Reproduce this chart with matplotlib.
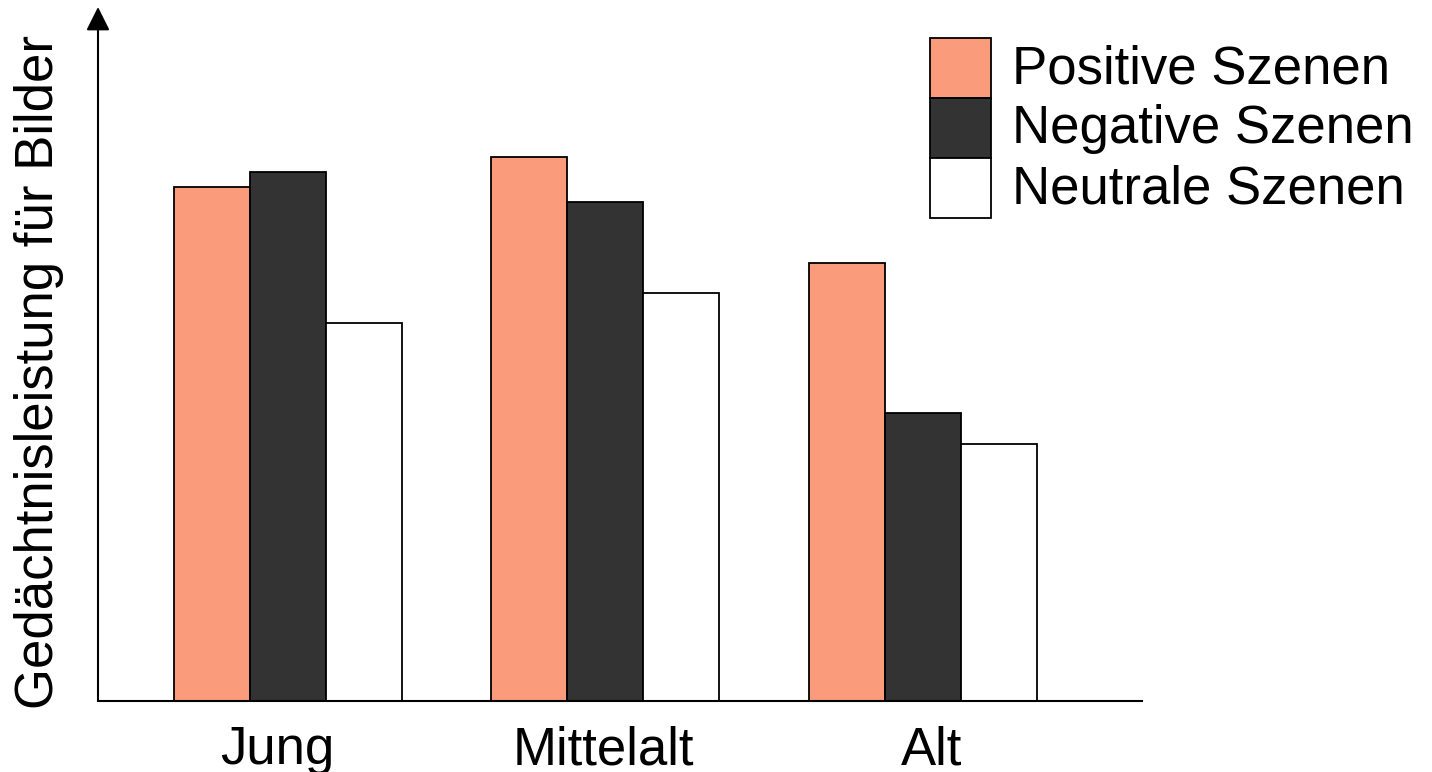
import numpy as np
import matplotlib.pyplot as plt
from matplotlib.patches import Rectangle

plt.rcParams['font.family'] = ['Liberation Sans', 'DejaVu Sans']

groups = ['Jung', 'Mittelalt', 'Alt']
label_pos = [-0.033, 0.994, 2.027]
series = ['Positive Szenen', 'Negative Szenen', 'Neutrale Szenen']
positive = [514, 544, 438]
negative = [529, 499, 288]
neutral = [378, 408, 257]
colors = ['#FA9B7B', '#333333', '#FFFFFF']

W, H = 1432, 772
fig = plt.figure(figsize=(W / 100, H / 100), dpi=100)
ax = fig.add_axes([98 / W, 71 / H, (1142 - 98) / W, (701 - 7) / H])

x = np.arange(len(groups))
width = 0.2394
for i, (vals, c) in enumerate(zip([positive, negative, neutral], colors)):
    ax.bar(x + (i - 1) * width, vals, width, color=c, edgecolor='black',
           linewidth=1.3, label=series[i], zorder=2)

ax.set_xlim(-0.597, 2.691)
ax.set_ylim(0, 694)
ax.set_xticks(label_pos)
ax.set_xticklabels(groups, fontsize=38)
ax.tick_params(axis='x', length=0, pad=17.5)
ax.set_yticks([])
for s in ['top', 'right', 'left']:
    ax.spines[s].set_visible(False)
ax.spines['bottom'].set_linewidth(1.5)

# y axis with arrow
ax.annotate('', xy=(0, 1), xytext=(0, 0), xycoords='axes fraction',
            arrowprops=dict(arrowstyle='-|>,head_length=0.4,head_width=0.2',
                            mutation_scale=36, lw=1.5, color='black',
                            shrinkA=0, shrinkB=0))

fig.text(39 / W, 1 - 372 / H, 'Gedächtnisleistung für Bilder', fontsize=38,
         rotation=90, ha='center', va='center')

# legend boxes
for i, (lab, c) in enumerate(zip(series, colors)):
    top = 38 + i * 60
    fig.add_artist(Rectangle((930 / W, 1 - (top + 60) / H), 61 / W, 60 / H,
                             facecolor=c, edgecolor='black', linewidth=1.3,
                             transform=fig.transFigure))
    fig.text(1012 / W, 1 - (top + 45) / H, lab, fontsize=38,
             ha='left', va='baseline')

fig.savefig('out.png', dpi=100)
